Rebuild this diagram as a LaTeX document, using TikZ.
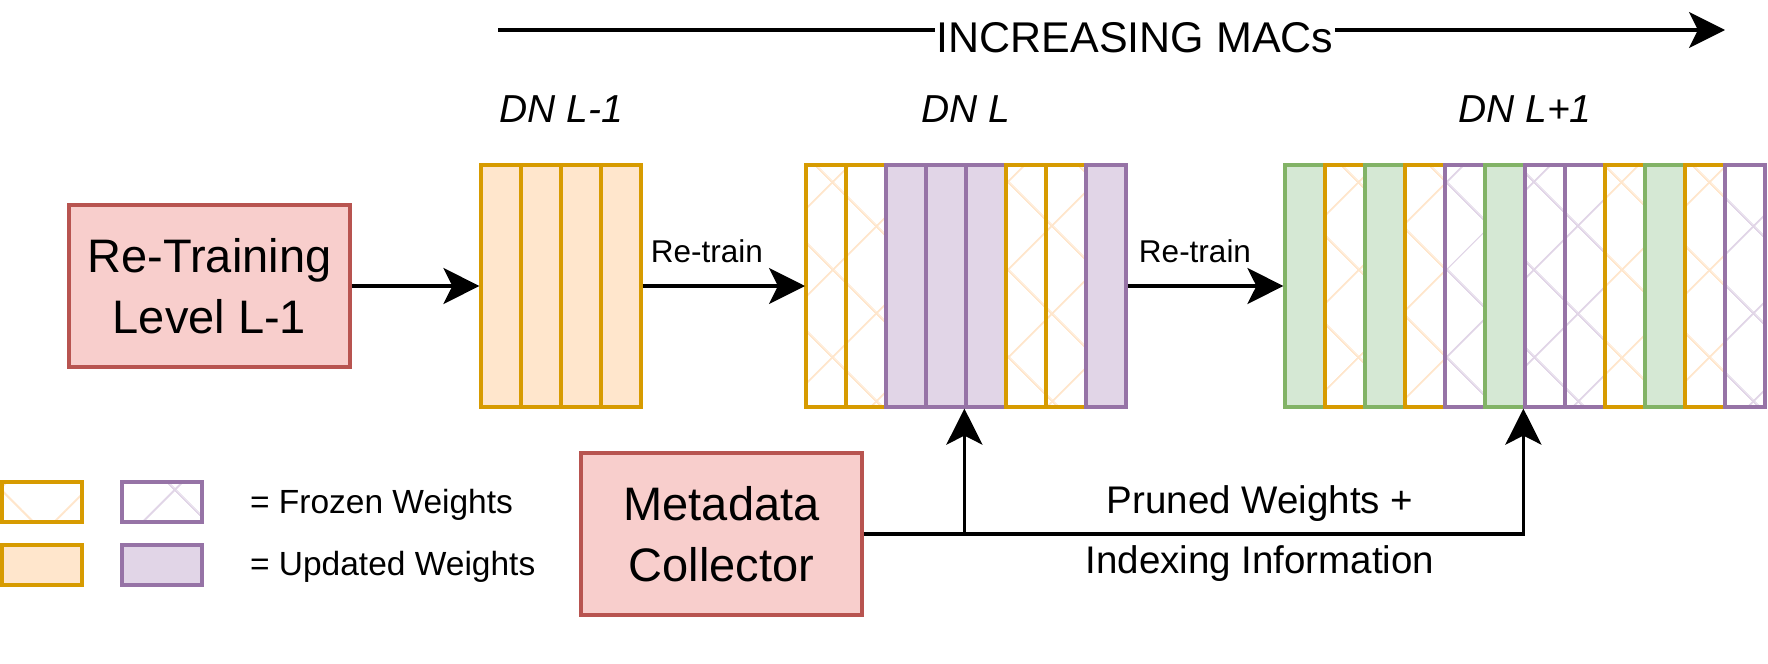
\documentclass[tikz,border=0pt]{standalone}
\usepackage{fontspec}
\setmainfont{Liberation Sans}
\usetikzlibrary{positioning, arrows.meta, patterns.meta}

\definecolor{orangeline}{HTML}{D79B00}
\definecolor{orangefill}{HTML}{FFE6CC}
\definecolor{purpleline}{HTML}{9673A6}
\definecolor{purplefill}{HTML}{E1D5E7}
\definecolor{greenline}{HTML}{82B366}
\definecolor{greenfill}{HTML}{D5E8D4}
\definecolor{redline}{HTML}{B85450}
\definecolor{redfill}{HTML}{F8CECC}

\tikzset{
    col/.style={draw, line width=1.6pt, minimum width=20pt, minimum height=121pt, inner sep=0pt},
    updA/.style={col, draw=orangeline, fill=orangefill},
    frozA/.style={col, draw=orangeline, pattern={Hatch[angle=45, distance=31pt, line width=1pt]}, pattern color=orangefill},
    updB/.style={col, draw=purpleline, fill=purplefill},
    frozB/.style={col, draw=purpleline, pattern={Hatch[angle=45, distance=31pt, line width=1pt]}, pattern color=purplefill},
    newC/.style={col, draw=greenline, fill=greenfill},
    keybox/.style={minimum width=40pt, minimum height=20pt},
    block/.style={draw=redline, fill=redfill, line width=1.6pt, minimum width=140.5pt, minimum height=81pt,
        align=center, font=\fontsize{23.5pt}{30.25pt}\selectfont},
    arr/.style={-{Stealth[length=18pt, width=18pt, inset=4.5pt]}, line width=1.75pt},
    dnlabel/.style={anchor=base, font=\fontsize{19.5pt}{23pt}\selectfont\itshape},
    edgelabel/.style={anchor=base, font=\fontsize{15.75pt}{19pt}\selectfont},
    infolabel/.style={anchor=base, font=\fontsize{19.25pt}{23pt}\selectfont},
    keylabel/.style={anchor=base west, font=\fontsize{16.75pt}{20pt}\selectfont}
}

\begin{document}
\begin{tikzpicture}[x=0.5pt, y=-0.5pt]
    \useasboundingbox (0, 0) rectangle (1768, 664);

    % MACs axis
    \coordinate (macsL) at (498, 30);
    \coordinate (macsR) at (1725, 30);
    \draw[arr] (macsL) -- (macsR);
    \node[anchor=base, fill=white, inner sep=0pt, inner xsep=1pt, font=\fontsize{21.5pt}{26pt}\selectfont] (macs) at (1135, 53) {INCREASING MACs};

    % level labels
    \node[dnlabel] (dnA) at (561, 122) {DN L-1};
    \node[dnlabel] (dnB) at (966, 122) {DN L};
    \node[dnlabel] (dnC) at (1525, 122) {DN L+1};

    % DN L-1 columns
    \foreach \s [count=\i] in {updA, updA, updA, updA}
        \node[\s] (a\i) at (461 + 40 * \i, 286) {};

    % DN L columns
    \foreach \s [count=\i] in {frozA, frozA, updB, updB, updB, frozA, frozA, updB}
        \node[\s] (b\i) at (786 + 40 * \i, 286) {};

    % DN L+1 columns
    \foreach \s [count=\i] in {newC, frozA, newC, frozA, frozB, newC, frozB, frozB, frozA, newC, frozA, frozB}
        \node[\s] (c\i) at (1265 + 40 * \i, 286) {};

    % red blocks
    \node[block] (retrain) at (209.5, 286) {Re-Training\\Level L-1};
    \node[block] (meta) at (721.5, 534) {Metadata\\Collector};

    % re-train arrows
    \draw[arr] (retrain.east) -- (a1.west);
    \draw[arr] (a4.east) -- (b1.west);
    \draw[arr] (b8.east) -- (c1.west);
    \node[edgelabel] (retrainA) at (707, 262) {Re-train};
    \node[edgelabel] (retrainB) at (1195, 262) {Re-train};

    % metadata to both levels
    \coordinate (split) at (meta.east -| b5.south west);
    \draw[arr] (meta.east) -| (c7.south west);
    \draw[arr] (split) -- (b5.south west);
    \node[infolabel] (pruned) at (1260, 513) {Pruned Weights +};
    \node[infolabel] (indexing) at (1260, 573) {Indexing Information};

    % legend
    \node[frozA, keybox] (keyfA) at (42, 502) {};
    \node[frozB, keybox] (keyfB) at (162, 502) {};
    \node[updA, keybox] (keyuA) at (42, 565) {};
    \node[updB, keybox] (keyuB) at (162, 565) {};
    \node[keylabel] (frozentxt) at (243, 513) {= Frozen Weights};
    \node[keylabel] (updatedtxt) at (243, 575) {= Updated Weights};
\end{tikzpicture}
\end{document}
